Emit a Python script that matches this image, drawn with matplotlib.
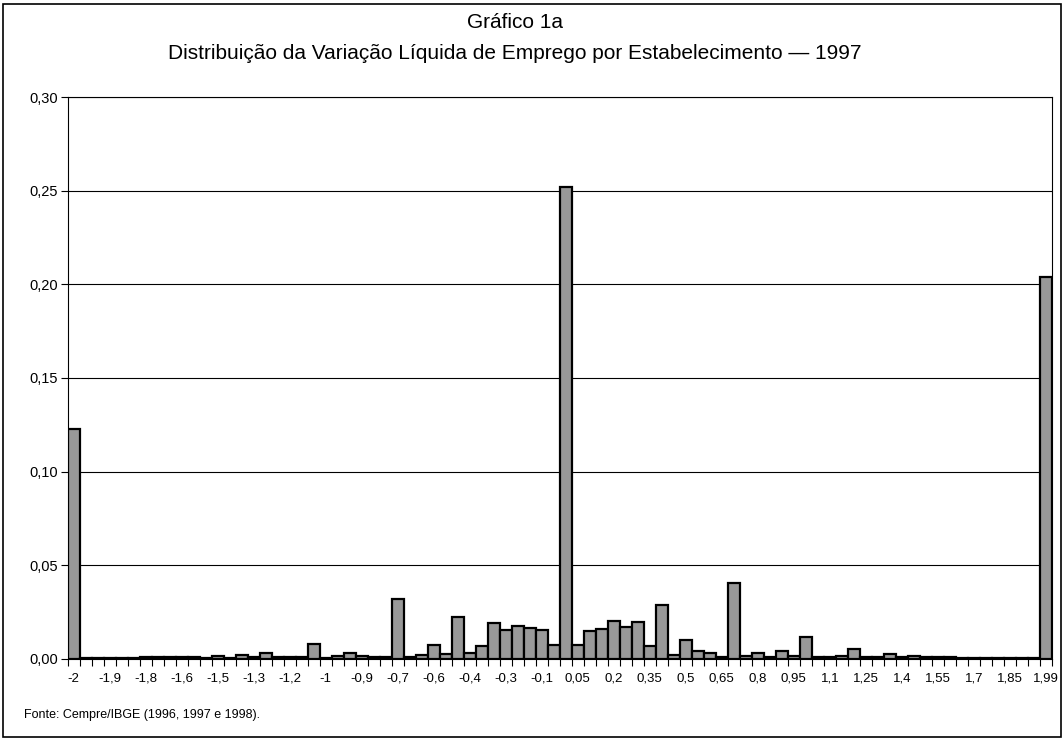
import numpy as np
import matplotlib
matplotlib.use("Agg")
import matplotlib.pyplot as plt
from matplotlib.patches import Rectangle

plt.rcParams['font.family'] = ['Liberation Sans', 'DejaVu Sans']

# share of establishments per bin of net employment change (82 bins, -2 .. 1,99)
shares = [
    0.1230, 0.0004, 0.0004, 0.0005, 0.0005, 0.0006, 0.0008, 0.0009, 0.0010, 0.0010,
    0.0009, 0.0005, 0.0016, 0.0006, 0.0020, 0.0008, 0.0032, 0.0010, 0.0012, 0.0012,
    0.0080, 0.0006, 0.0014, 0.0030, 0.0018, 0.0012, 0.0010, 0.0320, 0.0010, 0.0023,
    0.0077, 0.0025, 0.0226, 0.0032, 0.0068, 0.0194, 0.0153, 0.0176, 0.0164, 0.0153,
    0.0075, 0.2520, 0.0073, 0.0150, 0.0162, 0.0203, 0.0172, 0.0196, 0.0071, 0.0287,
    0.0021, 0.0100, 0.0041, 0.0030, 0.0010, 0.0404, 0.0016, 0.0030, 0.0012, 0.0044,
    0.0018, 0.0119, 0.0010, 0.0013, 0.0018, 0.0052, 0.0009, 0.0012, 0.0025, 0.0010,
    0.0016, 0.0012, 0.0009, 0.0012, 0.0006, 0.0005, 0.0004, 0.0004, 0.0003, 0.0003,
    0.0003, 0.2040,
]

# labels shown on every third bin
tick_labels = ['-2', '-1,9', '-1,8', '-1,6', '-1,5', '-1,3', '-1,2', '-1', '-0,9',
               '-0,7', '-0,6', '-0,4', '-0,3', '-0,1', '0,05', '0,2', '0,35', '0,5',
               '0,65', '0,8', '0,95', '1,1', '1,25', '1,4', '1,55', '1,7', '1,85', '1,99']

y_ticks = [0.0, 0.05, 0.10, 0.15, 0.20, 0.25, 0.30]

fig = plt.figure(figsize=(10.64, 7.39), dpi=100)
ax = fig.add_axes([0.0635, 0.1083, 0.9252, 0.7604])

x = np.arange(len(shares))
ax.bar(x, shares, width=1.0, color='#999999', edgecolor='black', linewidth=1.6, zorder=3)

ax.set_xlim(-0.5, len(shares) - 0.5)
ax.set_ylim(0, 0.30)

ax.set_yticks(y_ticks)
ax.set_yticklabels([f"{v:.2f}".replace('.', ',') for v in y_ticks])
ax.yaxis.grid(True, color='black', linewidth=0.8, zorder=0)
ax.tick_params(axis='y', direction='out', length=5, width=0.8, labelsize=10.5, pad=2)

ax.set_xticks(x[::3])
ax.set_xticklabels(tick_labels)
ax.set_xticks(np.arange(len(shares) + 1) - 0.5, minor=True)
ax.tick_params(axis='x', which='major', length=0, labelsize=9.5, pad=10)
ax.tick_params(axis='x', which='minor', direction='out', length=5, width=0.8)

for s in ax.spines.values():
    s.set_linewidth(0.8)
    s.set_color('black')

fig.text(0.484, 0.970, 'Gráfico 1a', ha='center', va='center', fontsize=15)
fig.text(0.484, 0.928, 'Distribuição da Variação Líquida de Emprego por Estabelecimento — 1997',
         ha='center', va='center', fontsize=15)
fig.text(0.023, 0.032, 'Fonte: Cempre/IBGE (1996, 1997 e 1998).', ha='left', va='center', fontsize=9)

fig.patches.append(Rectangle((0.003, 0.003), 0.994, 0.992, transform=fig.transFigure,
                             fill=False, edgecolor='black', linewidth=1.2))

fig.savefig('out.png', dpi=100)
